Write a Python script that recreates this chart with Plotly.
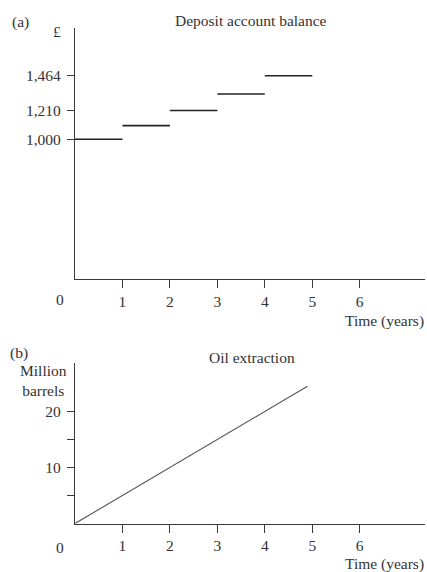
import plotly.graph_objects as go

# ---- data ----
period_start = [0, 1, 2, 3, 4]
period_end = [1, 2, 3, 4, 5]
balance = [1000, 1100, 1210, 1331, 1464]
balance_ticks = [1000, 1210, 1464]
balance_ticklabels = ["1,000", "1,210", "1,464"]

oil_years = [0, 4.9]
oil_barrels = [0, 24.5]
oil_ticks = [5, 10, 15, 20]
oil_ticklabels = ["", "10", "", "20"]

year_ticks = [1, 2, 3, 4, 5, 6]
year_ticklabels = ["1", "2", "3", "4", "5", "6"]

# ---- style ----
W, H = 427, 572
FONT = "Liberation Serif"
FS = 15.5
TXT = "#333333"
AX = "#3a3a3a"

step_x, step_y = [], []
for s, e, b in zip(period_start, period_end, balance):
    step_x += [s, e, None]
    step_y += [b, b, None]

fig = go.Figure()
fig.add_trace(go.Scatter(x=step_x, y=step_y, mode="lines",
                         line=dict(color="#222222", width=1.6),
                         xaxis="x", yaxis="y", showlegend=False, hoverinfo="skip"))
fig.add_trace(go.Scatter(x=oil_years, y=oil_barrels, mode="lines",
                         line=dict(color="#555555", width=1.1),
                         xaxis="x2", yaxis="y2", showlegend=False, hoverinfo="skip"))

px = lambda v: v / W
py = lambda v: 1 - v / H

xdom = [px(75), px(425)]
xr = [0, (425 - 75) / 47.45]

common_x = dict(range=xr, domain=xdom, showline=True, linecolor=AX, linewidth=1.3,
                ticks="outside", ticklen=8, tickwidth=1.3, tickcolor=AX,
                tickvals=year_ticks, ticktext=year_ticklabels, showgrid=False,
                zeroline=False, tickfont=dict(family=FONT, size=FS, color=TXT),
                fixedrange=True)
common_y = dict(showline=True, linecolor=AX, linewidth=1.3, ticks="outside",
                ticklen=7, tickwidth=1.3, tickcolor=AX, showgrid=False,
                zeroline=False, tickfont=dict(family=FONT, size=FS, color=TXT),
                ticklabelstandoff=3, fixedrange=True)

fig.update_layout(
    width=W, height=H, margin=dict(l=0, r=0, t=0, b=0),
    paper_bgcolor="white", plot_bgcolor="white",
    xaxis=dict(**common_x, anchor="y"),
    yaxis=dict(**common_y, anchor="x", domain=[py(279), py(28)], range=[-19, 1812],
               tickvals=balance_ticks, ticktext=balance_ticklabels),
    xaxis2=dict(**common_x, anchor="y2"),
    yaxis2=dict(**common_y, anchor="x2", domain=[py(523.5), py(363)], range=[0, 28.66],
                tickvals=oil_ticks, ticktext=oil_ticklabels),
)

def ann(text, x, y, xanchor="center", yanchor="middle", align="center"):
    fig.add_annotation(text=text, x=px(x), y=py(y), xref="paper", yref="paper",
                       xanchor=xanchor, yanchor=yanchor, align=align, showarrow=False,
                       font=dict(family=FONT, size=FS, color=TXT))

ann("(a)", 20, 22)
ann("£", 57, 32)
ann("Deposit account balance", 251, 21)
ann("0", 60, 299)
ann("Time (years)", 384, 321)
ann("(b)", 19, 353)
ann("Million<br>barrels", 43, 380)
ann("Oil extraction", 252, 357)
ann("0", 60, 547)
ann("Time (years)", 384, 564)

fig.write_html(
    "out.html",
    config={"displayModeBar": False},
    post_script="document.body.style.margin='0';document.body.style.overflow='hidden';",
)
